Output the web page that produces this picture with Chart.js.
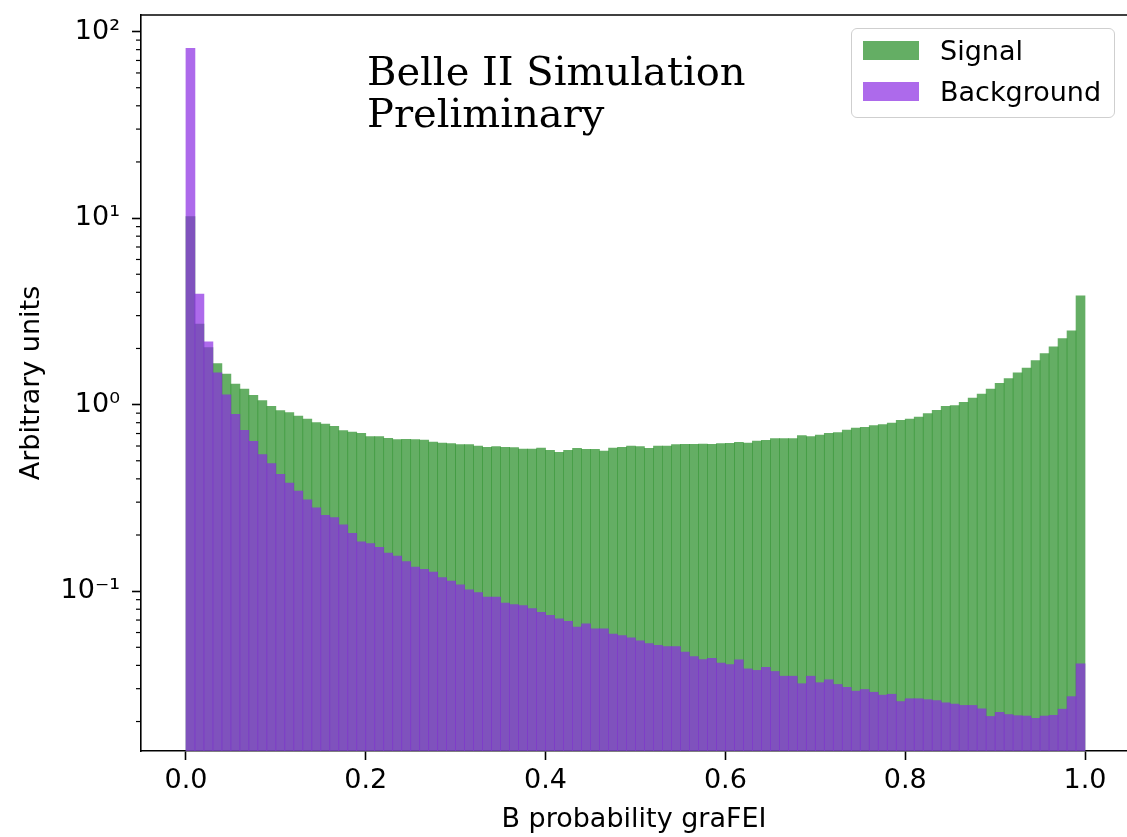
<!DOCTYPE html>
<html>
<head>
<meta charset="utf-8">
<script src="https://cdn.jsdelivr.net/npm/chart.js@4.4.1/dist/chart.umd.min.js"></script>
<style>
    html, body { margin: 0; padding: 0; background: #fff; }
    #wrap { position: relative; width: 1127px; height: 837px; }
    #note { position: absolute; left: 367px; top: 50px; font-family: 'DejaVu Serif', serif; font-size: 40px; line-height: 42px; color: #000; white-space: nowrap; }
    #legend { position: absolute; left: 851px; top: 28px; width: 262px; height: 88px; border: 1.5px solid #cfcfcf; border-radius: 6px; background: rgba(255,255,255,0.8); font-family: 'DejaVu Sans', sans-serif; font-size: 27px; color: #000; }
    .row { position: absolute; left: 11px; height: 19px; display: flex; align-items: center; white-space: nowrap; }
    .sw { width: 56px; height: 19px; margin-right: 21px; }
</style>
</head>
<body>
<div id="wrap">
    <canvas id="chart" width="1127" height="837"></canvas>
    <div id="note">Belle II Simulation<br>Preliminary</div>
    <div id="legend"></div>
</div>
<script>
// histogram binning
const binCount = 100;
const binRange = [0, 1];

// bin contents (log scale)
const signal = [
    10.2, 2.70, 2.02, 1.66, 1.46, 1.29, 1.21, 1.12, 1.05, 0.979,
    0.929, 0.906, 0.869, 0.837, 0.801, 0.787, 0.765, 0.725, 0.713, 0.702,
    0.673, 0.673, 0.659, 0.649, 0.651, 0.649, 0.646, 0.630, 0.622, 0.618,
    0.610, 0.610, 0.600, 0.590, 0.595, 0.590, 0.588, 0.578, 0.578, 0.585,
    0.569, 0.555, 0.569, 0.583, 0.576, 0.576, 0.564, 0.585, 0.590, 0.600,
    0.595, 0.583, 0.600, 0.600, 0.610, 0.612, 0.612, 0.614, 0.612, 0.618,
    0.620, 0.628, 0.622, 0.638, 0.643, 0.657, 0.657, 0.657, 0.682, 0.673,
    0.687, 0.702, 0.708, 0.731, 0.749, 0.756, 0.772, 0.781, 0.797, 0.824,
    0.837, 0.858, 0.895, 0.932, 0.979, 0.988, 1.03, 1.085, 1.14, 1.21,
    1.30, 1.38, 1.48, 1.57, 1.72, 1.88, 2.04, 2.26, 2.49, 3.83
];
const background = [
    81.3, 3.91, 2.17, 1.48, 1.13, 0.887, 0.728, 0.636, 0.539, 0.483,
    0.423, 0.380, 0.344, 0.309, 0.280, 0.255, 0.248, 0.227, 0.204, 0.184,
    0.180, 0.172, 0.160, 0.154, 0.144, 0.1345, 0.131, 0.1265, 0.1184, 0.1132,
    0.1082, 0.1017, 0.0984, 0.0929, 0.0929, 0.0862, 0.0848, 0.0838, 0.0807, 0.0771,
    0.0741, 0.0711, 0.0690, 0.0641, 0.0669, 0.0628, 0.0628, 0.0588, 0.0578, 0.0562,
    0.0542, 0.0524, 0.0513, 0.0505, 0.0505, 0.0471, 0.0446, 0.0430, 0.0437, 0.0411,
    0.0404, 0.0429, 0.0383, 0.0376, 0.0391, 0.0371, 0.0350, 0.0350, 0.0319, 0.0350,
    0.0323, 0.0335, 0.0316, 0.0305, 0.0291, 0.0297, 0.0287, 0.0277, 0.0280, 0.0256,
    0.0265, 0.0265, 0.0262, 0.0259, 0.0252, 0.0248, 0.0244, 0.0244, 0.0234, 0.0213,
    0.0224, 0.0218, 0.0215, 0.0214, 0.0208, 0.0214, 0.0216, 0.0233, 0.0272, 0.0408
];

const seriesNames = ['Signal', 'Background'];
const xTickValues = [0, 0.2, 0.4, 0.6, 0.8, 1.0];
const xTickLabels = ['0.0', '0.2', '0.4', '0.6', '0.8', '1.0'];
const yTickValues = [0.1, 1, 10, 100];
const yTickLabels = ['10\u207B\u00B9', '10\u2070', '10\u00B9', '10\u00B2'];

const colors = ['rgba(34, 139, 34, 0.7)', 'rgba(138, 43, 226, 0.7)'];

const binWidth = (binRange[1] - binRange[0]) / binCount;
const binCenters = signal.map((_, i) => binRange[0] + (i + 0.5) * binWidth);
const toPoints = arr => arr.map((v, i) => ({ x: binCenters[i], y: v }));

// top spine + minor log ticks like matplotlib
const frame = {
    id: 'frame',
    afterDraw(chart) {
        const { ctx, chartArea: a, scales: { y } } = chart;
        ctx.save();
        ctx.strokeStyle = '#000';
        ctx.lineWidth = 1.6;
        ctx.beginPath();
        ctx.moveTo(a.left, a.top);
        ctx.lineTo(a.right, a.top);
        ctx.stroke();
        ctx.lineWidth = 1.2;
        for (let e = -2; e <= 2; e++) {
            for (let k = 2; k <= 9; k++) {
                const v = k * Math.pow(10, e);
                if (v < y.min || v > y.max) continue;
                const py = y.getPixelForValue(v);
                ctx.beginPath();
                ctx.moveTo(a.left - 5, py);
                ctx.lineTo(a.left, py);
                ctx.stroke();
            }
        }
        ctx.restore();
    }
};

function renderChart() {
    Chart.defaults.font.family = "'DejaVu Sans', sans-serif";
    Chart.defaults.color = '#000';
    const ctx = document.getElementById('chart').getContext('2d');
    new Chart(ctx, {
        type: 'bar',
        data: {
            datasets: [{
                label: seriesNames[0],
                data: toPoints(signal),
                backgroundColor: colors[0],
                order: 2
            }, {
                label: seriesNames[1],
                data: toPoints(background),
                backgroundColor: colors[1],
                order: 1
            }]
        },
        options: {
            responsive: false,
            animation: false,
            devicePixelRatio: 1,
            layout: { padding: { top: 15, right: 0, left: 0, bottom: 0 } },
            datasets: {
                bar: { categoryPercentage: 1, barPercentage: 1, grouped: false, borderWidth: 0 }
            },
            plugins: { legend: { display: false }, tooltip: { enabled: false } },
            scales: {
                x: {
                    type: 'linear',
                    offset: false,
                    min: -0.05,
                    max: 1.0467,
                    afterBuildTicks: s => { s.ticks = xTickValues.map(v => ({ value: v })); },
                    afterFit: s => { s.height = 86; s.paddingLeft = 0; s.paddingRight = 0; },
                    ticks: {
                        autoSkip: false, maxRotation: 0, padding: 5,
                        font: { size: 27 },
                        callback: (v, i) => xTickLabels[i]
                    },
                    grid: { offset: false, drawOnChartArea: false, tickLength: 9, tickWidth: 1.6, tickColor: '#000' },
                    border: { color: '#000', width: 1.6 },
                    title: { display: true, text: 'B probability graFEI', font: { size: 27 }, padding: { top: 0, bottom: 1 } }
                },
                y: {
                    type: 'logarithmic',
                    min: 0.0139,
                    max: 122.7,
                    afterBuildTicks: s => { s.ticks = yTickValues.map(v => ({ value: v, major: true })); },
                    afterFit: s => { s.width = 141; s.paddingTop = 0; s.paddingBottom = 0; },
                    ticks: {
                        autoSkip: false, padding: 12,
                        font: { size: 27 },
                        callback: (v, i) => yTickLabels[i]
                    },
                    grid: { drawOnChartArea: false, tickLength: 9, tickWidth: 1.6, tickColor: '#000' },
                    border: { color: '#000', width: 1.6 },
                    title: { display: true, text: 'Arbitrary units', font: { size: 27 }, padding: { top: 16, bottom: 0 } }
                }
            }
        },
        plugins: [frame]
    });
}

function renderLegend() {
    const box = document.getElementById('legend');
    seriesNames.forEach((name, i) => {
        const row = document.createElement('div');
        row.className = 'row';
        row.style.top = (12 + i * 40.5) + 'px';
        const sw = document.createElement('span');
        sw.className = 'sw';
        sw.style.background = colors[i];
        const txt = document.createElement('span');
        txt.textContent = name;
        row.appendChild(sw);
        row.appendChild(txt);
        box.appendChild(row);
    });
}

document.addEventListener("DOMContentLoaded", () => {
    renderChart();
    renderLegend();
});
</script>
</body>
</html>
